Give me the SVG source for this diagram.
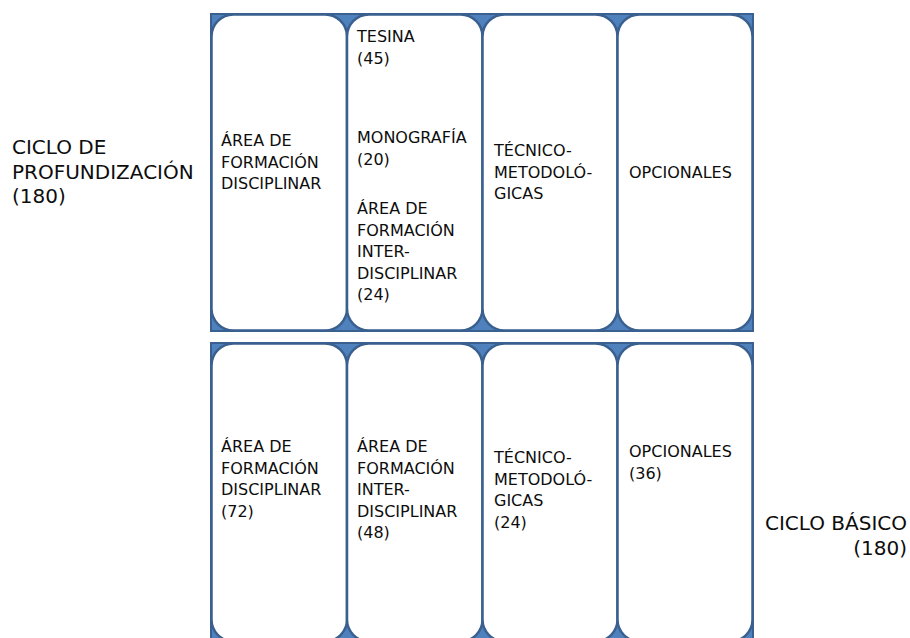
<svg xmlns="http://www.w3.org/2000/svg" width="910" height="638" viewBox="0 0 910 638">
<style>
.bg{fill:#4F81BD;stroke:#3A6090;stroke-width:2}
.col{fill:#FFFFFF;stroke:#3A6090;stroke-width:2.5}
.t{font-family:"DejaVu Sans",Verdana,sans-serif;font-size:16px;fill:#0D0D0D}
.big{font-family:"DejaVu Sans",Verdana,sans-serif;font-size:20px;fill:#0D0D0D}
</style>
<rect width="910" height="638" fill="#FFFFFF"/>
<g id="label-profundizacion">
<text class="big" x="12" y="154">CICLO DE</text>
<text class="big" x="12" y="178.5">PROFUNDIZACIÓN</text>
<text class="big" x="12" y="203">(180)</text>
</g>
<g id="label-basico">
<text class="big" x="907" y="530" text-anchor="end">CICLO BÁSICO</text>
<text class="big" x="907" y="555" text-anchor="end">(180)</text>
</g>
<g id="panel-top">
<rect class="bg" x="211" y="14" width="542" height="317"/>
<g id="top-col1">
<rect class="col" x="211.5" y="14.5" width="135.5" height="316" rx="22"/>
<text class="t" x="221" y="146">ÁREA DE</text>
<text class="t" x="221" y="167.5">FORMACIÓN</text>
<text class="t" x="221" y="189">DISCIPLINAR</text>
</g>
<g id="top-col2">
<rect class="col" x="347" y="14.5" width="135.5" height="316" rx="22"/>
<text class="t" x="357" y="42">TESINA</text>
<text class="t" x="357" y="63.5">(45)</text>
<text class="t" x="357" y="143">MONOGRAFÍA</text>
<text class="t" x="357" y="164.5">(20)</text>
<text class="t" x="357" y="214">ÁREA DE</text>
<text class="t" x="357" y="235.5">FORMACIÓN</text>
<text class="t" x="357" y="257">INTER-</text>
<text class="t" x="357" y="278.5">DISCIPLINAR</text>
<text class="t" x="357" y="300">(24)</text>
</g>
<g id="top-col3">
<rect class="col" x="482.5" y="14.5" width="135" height="316" rx="22"/>
<text class="t" x="494" y="156">TÉCNICO-</text>
<text class="t" x="494" y="177.5">METODOLÓ-</text>
<text class="t" x="494" y="199">GICAS</text>
</g>
<g id="top-col4">
<rect class="col" x="617.5" y="14.5" width="135" height="316" rx="22"/>
<text class="t" x="629" y="178">OPCIONALES</text>
</g>
</g>
<g id="panel-bottom">
<rect class="bg" x="211" y="343" width="542" height="299"/>
<g id="bot-col1">
<rect class="col" x="211.5" y="343.5" width="135.5" height="298" rx="22"/>
<text class="t" x="221" y="452">ÁREA DE</text>
<text class="t" x="221" y="473.5">FORMACIÓN</text>
<text class="t" x="221" y="495">DISCIPLINAR</text>
<text class="t" x="221" y="516.5">(72)</text>
</g>
<g id="bot-col2">
<rect class="col" x="347" y="343.5" width="135.5" height="298" rx="22"/>
<text class="t" x="357" y="452">ÁREA DE</text>
<text class="t" x="357" y="473.5">FORMACIÓN</text>
<text class="t" x="357" y="495">INTER-</text>
<text class="t" x="357" y="516.5">DISCIPLINAR</text>
<text class="t" x="357" y="538">(48)</text>
</g>
<g id="bot-col3">
<rect class="col" x="482.5" y="343.5" width="135" height="298" rx="22"/>
<text class="t" x="494" y="463">TÉCNICO-</text>
<text class="t" x="494" y="484.5">METODOLÓ-</text>
<text class="t" x="494" y="506">GICAS</text>
<text class="t" x="494" y="527.5">(24)</text>
</g>
<g id="bot-col4">
<rect class="col" x="617.5" y="343.5" width="135" height="298" rx="22"/>
<text class="t" x="629" y="457">OPCIONALES</text>
<text class="t" x="629" y="478.5">(36)</text>
</g>
</g>
</svg>
